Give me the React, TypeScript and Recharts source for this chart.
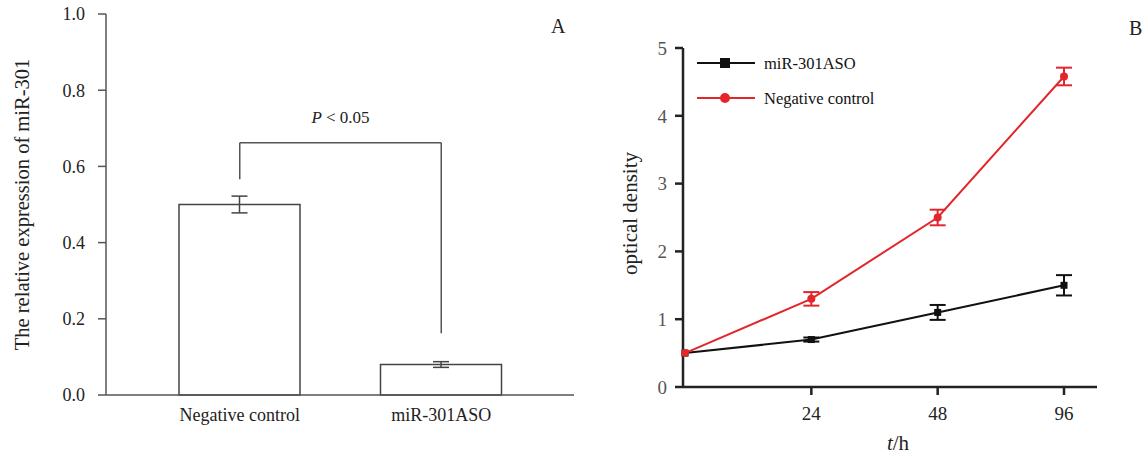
import React from 'react';
import { BarChart, Bar, XAxis, YAxis, ErrorBar, ReferenceLine, LineChart, Line, Legend, Label } from 'recharts';

const FONT = '"Liberation Serif", "Times New Roman", serif';

// Panel A data
const barCategories = ['Negative control', 'miR-301ASO'];
const barValues = [0.5, 0.08];
const barErrors = [0.022, 0.0075];
const barTicks = [0, 0.2, 0.4, 0.6, 0.8, 1.0];
const bracketTop = 0.662;
const bracketLeftEnd = 0.566;
const bracketRightEnd = 0.162;

// Panel B data
const timeLabels = ['0', '24', '48', '96'];
const shownTimeTicks = ['24', '48', '96'];
const seriesOrder = ['aso', 'nc'];
const asoValues = [0.5, 0.7, 1.1, 1.5];
const asoErrors = [0, 0.03, 0.11, 0.15];
const ncValues = [0.5, 1.3, 2.5, 4.58];
const ncErrors = [0, 0.1, 0.115, 0.13];
const lineTicks = [0, 1, 2, 3, 4, 5];

const barData = barCategories.map((c, i) => ({ name: c, value: barValues[i], err: barErrors[i] }));
const lineData = timeLabels.map((t, i) => ({
  t,
  aso: asoValues[i],
  asoErr: asoErrors[i],
  nc: ncValues[i],
  ncErr: ncErrors[i],
}));

const RED = '#e3262b';
const BLACK = '#111';

const YLabelA = (props: any) => {
  const vb = props.viewBox || { x: 0, y: 14, width: 106, height: 381 };
  const x = vb.x + 22;
  const y = vb.y + vb.height / 2;
  return (
    <text x={x} y={y} transform={`rotate(-90 ${x} ${y})`} textAnchor="middle" dominantBaseline="central"
      fontFamily={FONT} fontSize={20.5} fill="#222">
      The relative expression of miR-301
    </text>
  );
};

const YLabelB = (props: any) => {
  const vb = props.viewBox || { x: 0, y: 48, width: 83, height: 339 };
  const x = vb.x + 30;
  const y = vb.y + vb.height / 2 - 4;
  return (
    <text x={x} y={y} transform={`rotate(-90 ${x} ${y})`} textAnchor="middle" dominantBaseline="central"
      fontFamily={FONT} fontSize={21} fill="#222">
      optical density
    </text>
  );
};

const XLabelB = (props: any) => {
  const vb = props.viewBox || { x: 83, y: 387, width: 414, height: 60 };
  const x = vb.x + vb.width / 2 + 8;
  const y = vb.y + 63;
  return (
    <text x={x} y={y} textAnchor="middle" fontFamily={FONT} fontSize={21} fill="#222">
      <tspan fontStyle="italic">t</tspan>/h
    </text>
  );
};

const PLabel = (props: any) => {
  const vb = props.viewBox || { x: 0, y: 0, width: 0, height: 0 };
  const x = vb.x + vb.width / 2;
  const y = vb.y - 20;
  return (
    <text x={x} y={y} textAnchor="middle" fontFamily={FONT} fontSize={17} fill="#222">
      <tspan fontStyle="italic">P</tspan> &lt; 0.05
    </text>
  );
};

const SquareDot = (props: any) => {
  const { cx, cy, index } = props;
  if (cx == null || cy == null) return null;
  return <rect key={`sq-${index}`} x={cx - 3.5} y={cy - 3.5} width={7} height={7} fill={BLACK} />;
};

const CircleDot = (props: any) => {
  const { cx, cy, index } = props;
  if (cx == null || cy == null) return null;
  return <circle key={`ci-${index}`} cx={cx} cy={cy} r={4} fill={RED} />;
};

const renderLegend = (props: any) => {
  const payload = [...(props.payload || [])].sort(
    (a: any, b: any) => seriesOrder.indexOf(a.dataKey) - seriesOrder.indexOf(b.dataKey)
  );
  return (
    <svg width={200} height={72} style={{ display: 'block' }}>
      {payload.map((entry: any, i: number) => {
        const y = 18 + i * 35;
        const color = entry.color;
        return (
          <g key={i}>
            <line x1={2} x2={60} y1={y} y2={y} stroke={color} strokeWidth={2} />
            {entry.dataKey === 'aso' ? (
              <rect x={25} y={y - 5} width={10} height={10} fill={color} />
            ) : (
              <circle cx={30} cy={y} r={5} fill={color} />
            )}
            <text x={69} y={y} dominantBaseline="central" fontFamily={FONT} fontSize={16.5} fill="#111">
              {entry.value}
            </text>
          </g>
        );
      })}
    </svg>
  );
};

export default function App() {
  return (
    <div style={{ position: 'absolute', left: 0, top: 0, width: 1148, height: 458, background: '#fff', overflow: 'hidden' }}>
      <div style={{ position: 'absolute', left: 0, top: 0 }}>
        <BarChart width={580} height={458} data={barData} margin={{ top: 14, right: 6, bottom: 13, left: 0 }}>
          <XAxis
            dataKey="name"
            height={50}
            padding={{ left: 33, right: 32 }}
            axisLine={{ stroke: '#555', strokeWidth: 1.5 }}
            tickLine={false}
            tickSize={0}
            tickMargin={13}
            interval={0}
            tick={{ fill: '#222', fontSize: 18, fontFamily: FONT }}
          />
          <YAxis
            width={106}
            domain={[0, 1]}
            ticks={barTicks}
            tickFormatter={(v: number) => v.toFixed(1)}
            axisLine={{ stroke: '#555', strokeWidth: 1.5 }}
            tickLine={{ stroke: '#555', strokeWidth: 1.5 }}
            tickSize={8}
            tickMargin={13}
            tick={{ fill: '#222', fontSize: 18, fontFamily: FONT }}
          >
            <Label content={YLabelA} />
          </YAxis>
          <Bar dataKey="value" fill="#fff" stroke="#444" strokeWidth={1.5} barSize={121} isAnimationActive={false}>
            <ErrorBar dataKey="err" width={8} stroke="#444" strokeWidth={1.5} />
          </Bar>
          <ReferenceLine
            segment={[{ x: barCategories[0], y: bracketLeftEnd }, { x: barCategories[0], y: bracketTop }]}
            stroke="#555"
            strokeWidth={1.5}
          />
          <ReferenceLine
            segment={[{ x: barCategories[0], y: bracketTop }, { x: barCategories[1], y: bracketTop }]}
            stroke="#555"
            strokeWidth={1.5}
            label={<PLabel />}
          />
          <ReferenceLine
            segment={[{ x: barCategories[1], y: bracketRightEnd }, { x: barCategories[1], y: bracketTop }]}
            stroke="#555"
            strokeWidth={1.5}
          />
        </BarChart>
      </div>
      <div style={{ position: 'absolute', left: 600, top: 0 }}>
        <LineChart width={548} height={458} data={lineData} margin={{ top: 48, right: 51, bottom: 11, left: 0 }}>
          <XAxis
            dataKey="t"
            scale="point"
            height={60}
            padding={{ left: 2, right: 33 }}
            ticks={shownTimeTicks}
            interval={0}
            axisLine={{ stroke: '#222', strokeWidth: 2.5 }}
            tickLine={{ stroke: '#222', strokeWidth: 2.5 }}
            tickSize={8}
            tickMargin={12}
            tick={{ fill: '#222', fontSize: 19, fontFamily: FONT }}
          >
            <Label content={XLabelB} />
          </XAxis>
          <YAxis
            width={83}
            domain={[0, 5]}
            ticks={lineTicks}
            axisLine={{ stroke: '#222', strokeWidth: 2.5 }}
            tickLine={{ stroke: '#222', strokeWidth: 2.5 }}
            tickSize={8}
            tickMargin={8}
            tick={{ fill: '#555', fontSize: 19, fontFamily: FONT }}
          >
            <Label content={YLabelB} />
          </YAxis>
          <Line dataKey="aso" name="miR-301ASO" stroke={BLACK} strokeWidth={2} dot={SquareDot} activeDot={false} isAnimationActive={false}>
            <ErrorBar dataKey="asoErr" width={8} stroke={BLACK} strokeWidth={2} />
          </Line>
          <Line dataKey="nc" name="Negative control" stroke={RED} strokeWidth={2} dot={CircleDot} activeDot={false} isAnimationActive={false}>
            <ErrorBar dataKey="ncErr" width={8} stroke={RED} strokeWidth={2} />
          </Line>
          <Legend
            layout="vertical"
            align="center"
            verticalAlign="middle"
            content={renderLegend}
            wrapperStyle={{ left: 95, top: 45, width: 200, height: 72 }}
          />
        </LineChart>
      </div>
      <div style={{ position: 'absolute', left: 551, top: 16, fontFamily: FONT, fontSize: 20, color: '#222', lineHeight: 1 }}>A</div>
      <div style={{ position: 'absolute', left: 1129, top: 18, fontFamily: FONT, fontSize: 20, color: '#222', lineHeight: 1 }}>B</div>
    </div>
  );
}
